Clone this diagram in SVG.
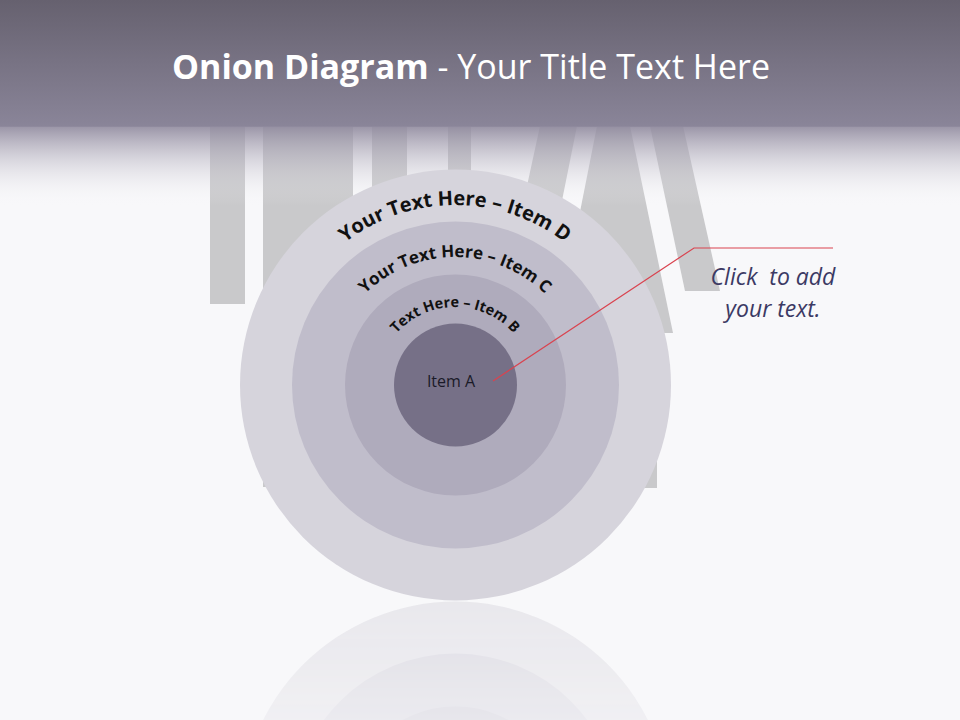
<svg xmlns="http://www.w3.org/2000/svg" xmlns:xlink="http://www.w3.org/1999/xlink" width="960" height="720" viewBox="0 0 960 720">
<style>
.bar{fill:#c9c9cb}
.ring-text{font-family:"Open Sans","Noto Sans",sans-serif;font-weight:bold;fill:#111}
.title{font-family:"Open Sans","Noto Sans",sans-serif;fill:#fff;font-size:34px}
.note{font-family:"Open Sans","Noto Sans",sans-serif;font-style:italic;fill:#3c3a64;font-size:23px}
</style>
<defs>
<linearGradient id="hdr" x1="0" y1="0" x2="0" y2="1">
<stop offset="0" stop-color="#66616f"/>
<stop offset="1" stop-color="#8a8599"/>
</linearGradient>
<linearGradient id="fade" x1="0" y1="0" x2="0" y2="1">
<stop offset="0" stop-color="#8f899d" stop-opacity="0.9"/>
<stop offset="0.45" stop-color="#b8b4c2" stop-opacity="0.45"/>
<stop offset="1" stop-color="#f8f8fa" stop-opacity="0"/>
</linearGradient>
<linearGradient id="mg" x1="0" y1="0" x2="0" y2="1">
<stop offset="0" stop-color="#fff" stop-opacity="0.45"/>
<stop offset="1" stop-color="#fff" stop-opacity="0.22"/>
</linearGradient>
<mask id="refmask" maskUnits="userSpaceOnUse" x="0" y="600" width="960" height="120">
<rect x="0" y="600" width="960" height="120" fill="url(#mg)"/>
</mask>
<path id="arcD" d="M 275 385 A 180 180 0 0 1 635 385"/>
<path id="arcC" d="M 327 385 A 127 127 0 0 1 583 385"/>
<path id="arcB" d="M 377 385 A 78 78 0 0 1 533 385"/>
</defs>
<rect width="960" height="720" fill="#f8f8fa"/>
<g id="background-bars">
<rect class="bar" x="210" y="126" width="35" height="178"/>
<rect class="bar" x="263" y="126" width="90" height="361"/>
<rect class="bar" x="372" y="126" width="35" height="120"/>
<rect class="bar" x="448" y="126" width="23" height="80"/>
<polygon class="bar" points="540,126 577,126 540,310 500,310"/>
<polygon class="bar" points="597,126 630,126 673,333 556,333"/>
<polygon class="bar" points="650,126 683,126 720,291 685,291"/>
<rect class="bar" x="560" y="330" width="97" height="158"/>
</g>
<rect x="0" y="0" width="960" height="127" fill="url(#hdr)"/>
<rect x="0" y="126" width="960" height="80" fill="url(#fade)"/>
<text class="title" x="471" y="79" text-anchor="middle"><tspan font-weight="bold">Onion Diagram</tspan> - Your Title Text Here</text>
<g id="reflection" mask="url(#refmask)">
<circle cx="455.5" cy="817" r="215.5" fill="#d6d4dc"/>
<circle cx="455.5" cy="817" r="163.5" fill="#c0bdcb"/>
<circle cx="455.5" cy="817" r="110.5" fill="#afabbc"/>
<circle cx="455.5" cy="817" r="61.5" fill="#767087"/>
</g>
<g id="ring-d">
<circle cx="455.5" cy="385" r="215.5" fill="#d6d4dc"/>
<text class="ring-text" font-size="20"><textPath xlink:href="#arcD" href="#arcD" startOffset="50%" text-anchor="middle">Your Text Here – Item D</textPath></text>
</g>
<g id="ring-c">
<circle cx="455.5" cy="385" r="163.5" fill="#c0bdcb"/>
<text class="ring-text" font-size="17"><textPath xlink:href="#arcC" href="#arcC" startOffset="50%" text-anchor="middle">Your Text Here – Item C</textPath></text>
</g>
<g id="ring-b">
<circle cx="455.5" cy="385" r="110.5" fill="#afabbc"/>
<text class="ring-text" font-size="14.5"><textPath xlink:href="#arcB" href="#arcB" startOffset="50%" text-anchor="middle">Text Here – Item B</textPath></text>
</g>
<g id="item-a">
<circle cx="455.5" cy="385" r="61.5" fill="#767087"/>
<text x="451" y="387" text-anchor="middle" font-family="Open Sans, Noto Sans, sans-serif" font-size="16" fill="#1a1a28">Item A</text>
</g>
<g id="connectors">
<polyline points="493,381 694,248 833,248" fill="none" stroke="#d9434f" stroke-width="1.2"/>
</g>
<g id="callout">
<text class="note" x="773" y="285" text-anchor="middle" xml:space="preserve">Click  to add</text>
<text class="note" x="773" y="317" text-anchor="middle">your text.</text>
</g>
</svg>
